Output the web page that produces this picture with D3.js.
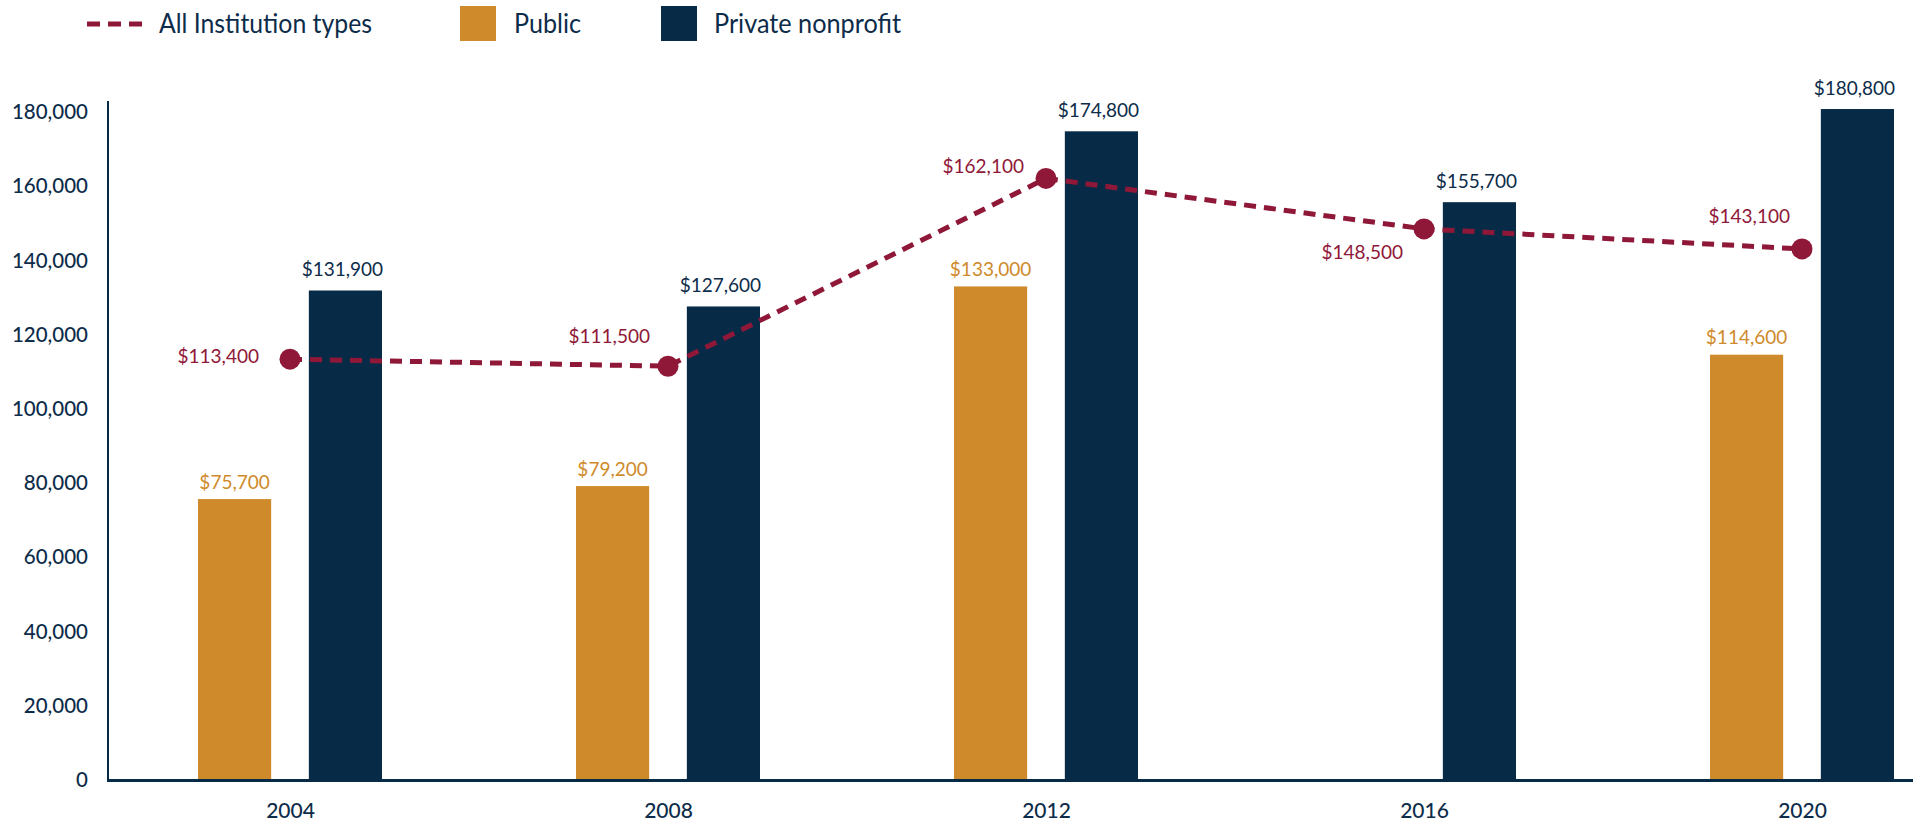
<!DOCTYPE html>
<html>
<head>
<meta charset="utf-8">
<script src="https://cdn.jsdelivr.net/npm/d3@7"></script>
<style>
  html, body { margin: 0; padding: 0; background: #ffffff; }
  svg { display: block; }
  text { font-family: Lato, "Open Sans", sans-serif; }
</style>
</head>
<body>
<svg id="chart" width="1923" height="824"></svg>
<script>
// ---- data ----
const years = ["2004", "2008", "2012", "2016", "2020"];
const publicValues = [75700, 79200, 133000, null, 114600];
const privateValues = [131900, 127600, 174800, 155700, 180800];
const allValues = [113400, 111500, 162100, 148500, 143100];
const yTicks = [0, 20000, 40000, 60000, 80000, 100000, 120000, 140000, 160000, 180000];
const seriesNames = ["All Institution types", "Public", "Private nonprofit"];

// ---- style ----
const NAVY = "#072b47";
const NAVY_TEXT = "#0d2c4a";
const GOLD = "#cf8a2b";
const MAROON = "#8f1838";
// label placement around the line points (dx, dy relative to point)
const lineLabelPlacement = [[-31, -4], [-18, -31], [-22, -13], [-21, 23], [-12, -33]];

const svg = d3.select("#chart");

const x = d3.scalePoint().domain(years).range([290, 1802]);
const x1 = d3.scaleBand().domain(["public", "private"]).range([-92, 92]).paddingInner(0.34).paddingOuter(0);
const y = d3.scaleLinear().domain([0, 180000]).range([780, 112]);

// ---- y axis ----
const yAxis = svg.append("g")
  .attr("transform", "translate(108,0)")
  .call(d3.axisLeft(y).tickValues(yTicks).tickFormat(d3.format(",")).tickSize(0).tickPadding(20));
yAxis.select(".domain").remove();
yAxis.selectAll("text")
  .attr("fill", NAVY_TEXT)
  .style("font-size", "20.5px")
  .style("font-family", "Lato, sans-serif")
  .style("font-weight", "500");

// ---- bars ----
const gBars = svg.append("g");
years.forEach((yr, i) => {
  const cx = x(yr);
  if (publicValues[i] != null) {
    gBars.append("rect")
      .attr("x", cx + x1("public"))
      .attr("y", y(publicValues[i]))
      .attr("width", x1.bandwidth())
      .attr("height", y(0) - y(publicValues[i]))
      .attr("fill", GOLD);
    gBars.append("text")
      .attr("x", cx + x1("public") + x1.bandwidth() / 2)
      .attr("y", y(publicValues[i]) - 18)
      .attr("text-anchor", "middle")
      .attr("dominant-baseline", "central")
      .attr("fill", GOLD)
      .style("font-size", "19px")
      .text("$" + d3.format(",")(publicValues[i]));
  }
  gBars.append("rect")
    .attr("x", cx + x1("private"))
    .attr("y", y(privateValues[i]))
    .attr("width", x1.bandwidth())
    .attr("height", y(0) - y(privateValues[i]))
    .attr("fill", NAVY);
  gBars.append("text")
    .attr("x", cx + x1("private") + x1.bandwidth() / 2 - 3)
    .attr("y", y(privateValues[i]) - 22)
    .attr("text-anchor", "middle")
    .attr("dominant-baseline", "central")
    .attr("fill", NAVY_TEXT)
    .style("font-size", "19px")
    .text("$" + d3.format(",")(privateValues[i]));
});

// ---- axis lines ----
svg.append("line")
  .attr("x1", 108).attr("x2", 108)
  .attr("y1", 101).attr("y2", y(0) + 1)
  .attr("stroke", NAVY).attr("stroke-width", 2);
svg.append("line")
  .attr("x1", 107).attr("x2", 1913)
  .attr("y1", y(0) + 0.5).attr("y2", y(0) + 0.5)
  .attr("stroke", NAVY).attr("stroke-width", 3);

// ---- x axis labels ----
const xAxis = svg.append("g")
  .attr("transform", `translate(0,${y(0) + 1})`)
  .call(d3.axisBottom(x).tickSize(0).tickPadding(22));
xAxis.select(".domain").remove();
xAxis.selectAll("text")
  .attr("fill", NAVY_TEXT)
  .style("font-size", "21px")
  .style("font-family", "Lato, sans-serif")
  .style("font-weight", "500");

// ---- line ----
const line = d3.line()
  .x((d, i) => x(years[i]))
  .y(d => y(d));
svg.append("path")
  .datum(allValues)
  .attr("d", line)
  .attr("fill", "none")
  .attr("stroke", MAROON)
  .attr("stroke-width", 5)
  .attr("stroke-dasharray", "12,8");

svg.append("g").selectAll("circle")
  .data(allValues)
  .join("circle")
  .attr("cx", (d, i) => x(years[i]))
  .attr("cy", d => y(d))
  .attr("r", 10.5)
  .attr("fill", MAROON);

svg.append("g").selectAll("text")
  .data(allValues)
  .join("text")
  .attr("x", (d, i) => x(years[i]) + lineLabelPlacement[i][0])
  .attr("y", (d, i) => y(d) + lineLabelPlacement[i][1])
  .attr("text-anchor", "end")
  .attr("dominant-baseline", "central")
  .attr("fill", MAROON)
  .style("font-size", "19px")
  .text(d => "$" + d3.format(",")(d));

// ---- legend ----
const legend = svg.append("g");
legend.append("line")
  .attr("x1", 87).attr("x2", 145)
  .attr("y1", 24).attr("y2", 24)
  .attr("stroke", MAROON).attr("stroke-width", 5)
  .attr("stroke-dasharray", "13,8");
legend.append("text")
  .attr("x", 159).attr("y", 23)
  .attr("dominant-baseline", "central")
  .attr("fill", NAVY_TEXT)
  .style("font-size", "26px")
  .attr("textLength", 213).attr("lengthAdjust", "spacingAndGlyphs")
  .text(seriesNames[0]);
legend.append("rect")
  .attr("x", 460).attr("y", 6).attr("width", 36).attr("height", 35)
  .attr("fill", GOLD);
legend.append("text")
  .attr("x", 514).attr("y", 23)
  .attr("dominant-baseline", "central")
  .attr("fill", NAVY_TEXT)
  .style("font-size", "26px")
  .attr("textLength", 67).attr("lengthAdjust", "spacingAndGlyphs")
  .text(seriesNames[1]);
legend.append("rect")
  .attr("x", 661).attr("y", 6).attr("width", 36).attr("height", 35)
  .attr("fill", NAVY);
legend.append("text")
  .attr("x", 714).attr("y", 23)
  .attr("dominant-baseline", "central")
  .attr("fill", NAVY_TEXT)
  .style("font-size", "26px")
  .attr("textLength", 187).attr("lengthAdjust", "spacingAndGlyphs")
  .text(seriesNames[2]);
</script>
</body>
</html>
